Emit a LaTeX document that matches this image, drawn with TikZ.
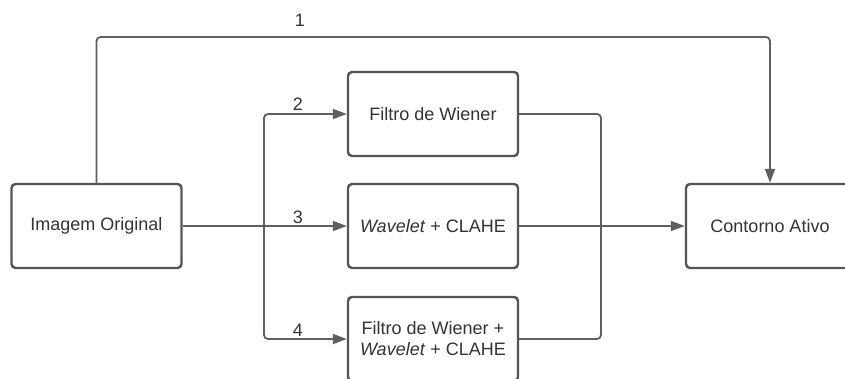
\documentclass[tikz,border=0pt]{standalone}
\usepackage{fontspec}
\setmainfont{Liberation Sans}
\usetikzlibrary{arrows.meta}
\definecolor{linec}{HTML}{5F5F5F}
\definecolor{boxc}{HTML}{555555}
\definecolor{txtc}{HTML}{333333}
\begin{document}
\begin{tikzpicture}[x=1pt,y=-1pt,
  box/.style={draw=boxc,line width=2.4pt,rounded corners=4pt,fill=white,minimum width=170pt,minimum height=84pt,inner sep=0pt,align=center,text=txtc,font=\fontsize{18}{21}\selectfont},
  conn/.style={draw=linec,line width=1.8pt,rounded corners=4pt},
  arr/.style={conn,-{Triangle[length=14pt,width=10pt]}},
  lbl/.style={text=txtc,font=\fontsize{18}{21}\selectfont,inner sep=0pt}]
\clip (0,0) rectangle (845,378);
\fill[white] (0,0) rectangle (845,378);
\node[box] (orig) at (96.5,226) {Imagem Original};
\node[box] (filt) at (433,114) {Filtro de Wiener};
\node[box] (wave) at (433,226) {\textit{Wavelet} + CLAHE};
\node[box] (comb) at (433,339) {Filtro de Wiener +\\\textit{Wavelet} + CLAHE};
\node[box,minimum width=168pt] (cont) at (770,226) {Contorno Ativo};
\coordinate (bl) at (264,226);
\coordinate (br) at (601,226);
\coordinate (top) at (97,37);
\draw[arr] (orig.north) -- (orig.north |- top) -| (cont.north);
\draw[arr] (orig.east) -- (wave.west);
\draw[arr] (bl) |- (filt.west);
\draw[arr] (bl) |- (comb.west);
\draw[conn] (filt.east) -| (br);
\draw[conn] (comb.east) -| (br);
\draw[arr] (wave.east) -- (cont.west);
\node[lbl] (l1) at (300,20) {1};
\node[lbl] (l2) at (298,104) {2};
\node[lbl] (l3) at (298,217) {3};
\node[lbl] (l4) at (298,330) {4};
\end{tikzpicture}
\end{document}
